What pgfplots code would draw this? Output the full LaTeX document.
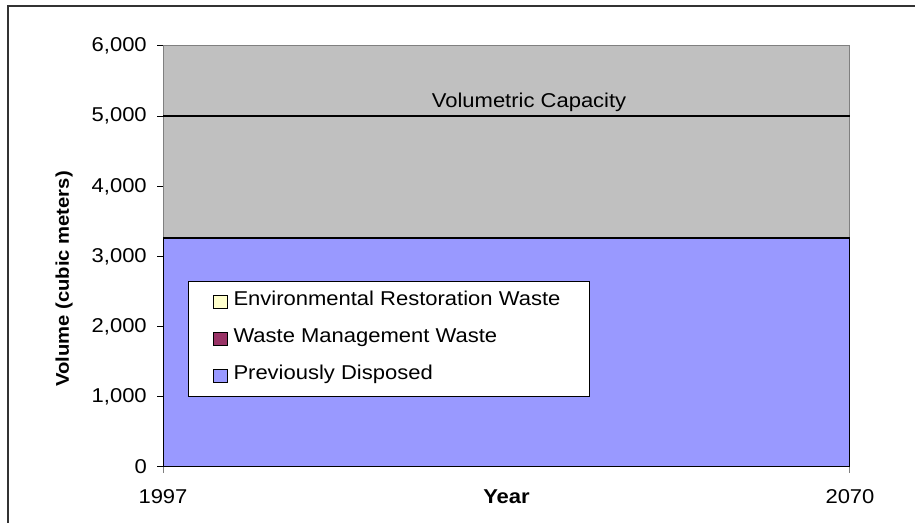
\documentclass[border=0pt]{standalone}
\usepackage{fontspec}
\setmainfont{Liberation Sans}[FakeStretch=1.1]
\usepackage{pgfplots}
\pgfplotsset{compat=1.18}
\definecolor{bggray}{HTML}{C0C0C0}
\definecolor{axgray}{HTML}{808080}
\definecolor{framegray}{HTML}{333333}
\definecolor{pdblue}{HTML}{9999FF}
\definecolor{wmred}{HTML}{993366}
\definecolor{eryellow}{HTML}{FFFFCC}
\begin{document}
\fontsize{15pt}{18pt}\selectfont
\begin{tikzpicture}
\path[use as bounding box] (0pt,0pt) rectangle (686.25pt,392.25pt);
\draw[line width=1.2pt, framegray] (6pt,-5pt) -- (6pt,387.75pt) -- (700pt,387.75pt);
\begin{axis}[
  at={(122.25pt,42pt)}, anchor=south west,
  scale only axis, width=515.25pt, height=315.75pt,
  xmin=1997, xmax=2070, ymin=0, ymax=6000,
  axis background/.style={fill=bggray},
  axis line style={draw=axgray, line width=0.75pt},
  tick align=outside, major tick length=4.5pt, tick pos=left,
  xtick={1997,2070}, xticklabels={1997,2070},
  ytick={0,1000,2000,3000,4000,5000,6000},
  yticklabels={0,{1,000},{2,000},{3,000},{4,000},{5,000},{6,000}},
  ytick style={black, line width=0.75pt},
  xtick style={axgray, line width=0.75pt},
  yticklabel style={anchor=east, inner sep=0pt, xshift=-7.5pt},
  xticklabel style={anchor=base, inner sep=0pt, yshift=-23.25pt},
  xlabel={Year},
  xlabel style={at={(axis description cs:0.5,0)}, anchor=base, inner sep=0pt, yshift=-27.75pt, font=\bfseries},
  ylabel={Volume (cubic meters)},
  ylabel style={at={(axis description cs:-0.144,0.4466)}, anchor=center, inner sep=0pt, font=\fontsize{13.8pt}{16pt}\selectfont\bfseries},
  stack plots=y,
  reverse legend,
  legend cell align=left,
  legend style={at={(axis description cs:0.0364,0.4418)}, anchor=north west,
    draw=black, line width=0.75pt, fill=white,
    inner xsep=18pt, inner ysep=7pt, row sep=10.75pt,
    nodes={text height=11pt, text depth=6pt, inner ysep=0pt, inner xsep=4pt}},
  legend image code/.code={\draw[#1, draw=black, line width=0.75pt] (0pt,-5pt) rectangle (11pt,5pt);},
]
\addplot[fill=pdblue, draw=black, line width=1.5pt] coordinates {(1997,3260) (2070,3260)} \closedcycle;
\addlegendentry{Previously Disposed}
\addplot[fill=wmred, draw=black, line width=1.5pt] coordinates {(1997,0) (2070,0)} \closedcycle;
\addlegendentry{Waste Management Waste}
\addplot[fill=eryellow, draw=black, line width=1.5pt] coordinates {(1997,0) (2070,0)} \closedcycle;
\addlegendentry{Environmental Restoration Waste}
\addplot[stack plots=false, forget plot, black, line width=1.1pt] coordinates {(1997,5000) (2070,5000)};
\node[anchor=base, inner sep=0pt] at (axis cs:2035.9,5130) {Volumetric Capacity};
\end{axis}
\end{tikzpicture}
\end{document}
